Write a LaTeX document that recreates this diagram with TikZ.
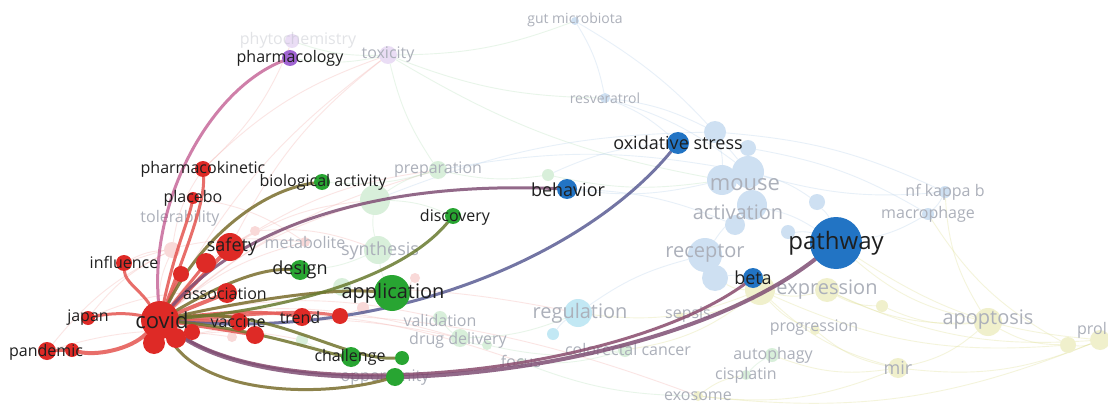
\documentclass[tikz,border=0pt]{standalone}
\usepackage{fontspec}
\setmainfont{Open Sans}
\usepackage{xcolor}
\usetikzlibrary{backgrounds}
\pgfdeclarelayer{bottom}
\pgfdeclarelayer{back}
\pgfdeclarelayer{mid}
\pgfsetlayers{bottom,back,mid,main}
\definecolor{vred}{RGB}{222,42,38}
\definecolor{vgreen}{RGB}{40,165,50}
\definecolor{vblue}{RGB}{34,116,196}
\definecolor{vpurple}{RGB}{160,100,210}
\definecolor{vcyan}{RGB}{120,205,230}
\definecolor{vyellow}{RGB}{212,212,110}
\definecolor{gtxt}{RGB}{172,176,186}

\begin{document}
\begin{tikzpicture}[
      x=1pt, y=-1pt,
      dot/.style={circle, inner sep=0pt, draw=none},
      rdot/.style={dot, fill=vred},
      gdot/.style={dot, fill=vgreen},
      bdot/.style={dot, fill=vblue},
      pdot/.style={dot, fill=vpurple},
      rghost/.style={dot, fill=vred!18},
      gghost/.style={dot, fill=vgreen!18},
      bghost/.style={dot, fill=vblue!22},
      yghost/.style={dot, fill=vyellow!35},
      pghost/.style={dot, fill=vpurple!22},
      lab/.style={inner sep=0pt, text=black!88, font=\fontsize{16}{16}\selectfont},
      labm/.style={lab, font=\fontsize{18}{18}\selectfont},
      labl/.style={lab, font=\fontsize{20}{20}\selectfont},
      labxl/.style={lab, font=\fontsize{22}{22}\selectfont},
      labxxl/.style={lab, font=\fontsize{24}{24}\selectfont},
      ghost/.style={text=gtxt},
      faint/.style={line width=0.9pt, opacity=0.35},
      link/.style={line width=3pt, opacity=0.85, line cap=round}
    ]
    \useasboundingbox (0,0) rectangle (1108,417);

    \begin{pgfonlayer}{back}
    \node[pghost, minimum size=14] (phyto) at (292,41) {};
    \node[pghost, minimum size=18] (toxicity) at (388,55) {};
    \node[bghost, minimum size=8] (gut) at (575,21) {};
    \node[bghost, minimum size=10] (resv) at (605,98) {};
    \node[bghost, minimum size=22] (b1) at (715,132) {};
    \node[bghost, minimum size=16] (b2) at (748,148) {};
    \node[bghost, minimum size=30] (b3) at (722,180) {};
    \node[bghost, minimum size=32] (b4) at (748,172) {};
    \node[bghost, minimum size=30] (b5) at (752,205) {};
    \node[bghost, minimum size=20] (b6) at (735,225) {};
    \node[bghost, minimum size=34] (receptor) at (705,255) {};
    \node[bghost, minimum size=26] (b7) at (715,278) {};
    \node[bghost, minimum size=16] (b8) at (817,202) {};
    \node[bghost, minimum size=14] (b9) at (788,232) {};
    \node[bghost, minimum size=12] (nfk) at (945,192) {};
    \node[bghost, minimum size=12] (macro) at (928,214) {};
    \node[dot, fill=vcyan!45, minimum size=28] (regulation) at (578,313) {};
    \node[dot, fill=vcyan!45, minimum size=12] (cy2) at (553,334) {};
    \node[yghost, minimum size=30] (expression) at (760,290) {};
    \node[yghost, minimum size=24] (ex2) at (827,290) {};
    \node[yghost, minimum size=12] (ex3) at (882,306) {};
    \node[yghost, minimum size=10] (progr) at (815,330) {};
    \node[yghost, minimum size=28] (apop) at (988,322) {};
    \node[yghost, minimum size=16] (y1) at (1068,345) {};
    \node[yghost, minimum size=20] (y2) at (1100,340) {};
    \node[yghost, minimum size=20] (mir) at (898,368) {};
    \node[yghost, minimum size=10] (exo) at (698,396) {};
    \node[gghost, minimum size=14] (autophagy) at (772,355) {};
    \node[gghost, minimum size=10] (cispl) at (746,375) {};
    \node[gghost, minimum size=14] (colorectal) at (625,350) {};
    \node[yghost, minimum size=8] (sepsis) at (680,316) {};
    \node[gghost, minimum size=18] (preparation) at (438,170) {};
    \node[gghost, minimum size=12] (pr2) at (548,175) {};
    \node[gghost, minimum size=30] (syn1) at (375,200) {};
    \node[gghost, minimum size=28] (synthesis) at (378,250) {};
    \node[rghost, minimum size=10] (metab) at (305,242) {};
    \node[gghost, minimum size=14] (valid) at (440,318) {};
    \node[gghost, minimum size=18] (drug) at (460,338) {};
    \node[gghost, minimum size=10] (dr2) at (487,345) {};
    \node[gghost, minimum size=18] (g3) at (342,287) {};
    \node[gghost, minimum size=12] (g4) at (302,340) {};
    \node[gghost, minimum size=8] (focus) at (521,362) {};
    \node[rghost, minimum size=16] (tol) at (172,250) {};
    \node[rghost, minimum size=10] (r2) at (255,231) {};
    \node[rghost, minimum size=10] (r3) at (415,278) {};
    \node[rghost, minimum size=12] (r4) at (363,308) {};
    \node[rghost, minimum size=10] (r5) at (232,337) {};

    \node[lab, ghost, opacity=0.35] (phytot) at (298,40) {phytochemistry};
    \node[lab, ghost] (toxicityt) at (388,55) {toxicity};
    \node[lab, ghost, font=\fontsize{14}{14}\selectfont] (gutt) at (575,20) {gut microbiota};
    \node[lab, ghost, font=\fontsize{14}{14}\selectfont] (resvt) at (605,98) {resveratrol};
    \node[labxl, ghost] (mouset) at (745,185) {mouse};
    \node[labl, ghost] (activationt) at (738,212) {activation};
    \node[labl, ghost] (receptort) at (705,253) {receptor};
    \node[lab, ghost] (macrot) at (928,214) {macrophage};
    \node[lab, ghost] (nfkt) at (945,192) {nf kappa b};
    \node[labl, ghost] (regulationt) at (580,313) {regulation};
    \node[lab, ghost] (sepsist) at (688,315) {sepsis};
    \node[lab, ghost] (colorectalt) at (628,349) {colorectal cancer};
    \node[lab, ghost] (focust) at (521,361) {focus};
    \node[lab, ghost] (exot) at (698,396) {exosome};
    \node[lab, ghost] (cisplt) at (746,375) {cisplatin};
    \node[lab, ghost] (autophagyt) at (773,355) {autophagy};
    \node[lab, ghost] (progrt) at (814,328) {progression};
    \node[labl, ghost] (expressiont) at (827,290) {expression};
    \node[labm, ghost] (mirt) at (898,368) {mir};
    \node[labl, ghost] (apopt) at (988,320) {apoptosis};
    \node[lab, ghost, anchor=east] (prolt) at (1107,330) {prol};
    \node[lab, ghost] (preparationt) at (438,170) {preparation};
    \node[labm, ghost] (synthesist) at (380,251) {synthesis};
    \node[lab, ghost] (metabt) at (305,242) {metabolite};
    \node[lab, ghost] (validt) at (440,320) {validation};
    \node[lab, ghost] (drugt) at (458,340) {drug delivery};
    \node[lab, ghost] (tolt) at (180,218) {tolerability};
    \node[lab, ghost] (opportunityt) at (385,378) {opportunity};
    \end{pgfonlayer}

    \node[rdot, minimum size=38] (covid) at (160,320) {};
    \node[rdot, minimum size=22] (cv1) at (154,343) {};
    \node[rdot, minimum size=20] (cv2) at (176,338) {};
    \node[rdot, minimum size=16] (cv3) at (192,332) {};
    \node[rdot, minimum size=18] (pandemic) at (47,351) {};
    \node[rdot, minimum size=14] (pand2) at (72,350) {};
    \node[rdot, minimum size=14] (japan) at (88,318) {};
    \node[rdot, minimum size=16] (influence) at (124,263) {};
    \node[rdot, minimum size=28] (safety) at (230,247) {};
    \node[rdot, minimum size=20] (saf2) at (206,263) {};
    \node[rdot, minimum size=16] (saf3) at (181,274) {};
    \node[rdot, minimum size=16] (pharmacokinetic) at (203,169) {};
    \node[rdot, minimum size=12] (placebo) at (193,198) {};
    \node[rdot, minimum size=20] (association) at (227,293) {};
    \node[rdot, minimum size=18] (vaccine) at (239,322) {};
    \node[rdot, minimum size=18] (vac2) at (255,335) {};
    \node[rdot, minimum size=18] (trend) at (302,317) {};
    \node[rdot, minimum size=16] (tr2) at (340,316) {};
    \node[gdot, minimum size=16] (biological) at (322,182) {};
    \node[gdot, minimum size=20] (design) at (300,270) {};
    \node[gdot, minimum size=36] (application) at (392,293) {};
    \node[gdot, minimum size=16] (discovery) at (453,216) {};
    \node[gdot, minimum size=20] (challenge) at (351,357) {};
    \node[gdot, minimum size=14] (gr2) at (402,358) {};
    \node[gdot, minimum size=18] (opportunity) at (395,377) {};
    \node[pdot, minimum size=16] (pharmacology) at (290,58) {};
    \node[bdot, minimum size=20] (behavior) at (567,189) {};
    \node[bdot, minimum size=22] (oxidative) at (678,143) {};
    \node[bdot, minimum size=52] (pathway) at (836,243) {};
    \node[bdot, minimum size=20] (beta) at (753,278) {};

    \begin{pgfonlayer}{bottom}
    \fill[white] (0,0) rectangle (1108,417);
    \foreach \a/\b in {covid/tol, covid/metab, covid/r2, covid/syn1, covid/toxicity, covid/preparation,
        covid/valid, covid/drug, covid/regulation, covid/focus, covid/exo, safety/toxicity,
        safety/preparation, safety/syn1, pharmacokinetic/toxicity, placebo/metab, influence/tol,
        tol/pharmacokinetic, r2/synthesis, r3/application, r4/trend, pandemic/tol, japan/tol,
        phyto/pharmacokinetic, pandemic/r5, japan/association, influence/metab, cv1/g4, cv2/drug}
      \draw[faint, vred!35] (\a) to[bend left=12] (\b);
    \foreach \a/\b in {preparation/syn1, syn1/synthesis, synthesis/application, preparation/pr2,
        pr2/b3, valid/drug, drug/dr2, dr2/colorectal, focus/colorectal, g3/application,
        g4/challenge, design/synthesis, biological/preparation, discovery/syn1, autophagy/cispl,
        pharmacology/toxicity, phyto/toxicity, toxicity/gut, toxicity/resv, toxicity/preparation,
        toxicity/b3, drug/regulation, focus/exo}
      \draw[faint, vgreen!30] (\a) to[bend right=10] (\b);
    \foreach \a/\b in {gut/resv, resv/b1, resv/oxidative, b1/b3, b3/b4, b4/b5, b5/pathway, b4/b8,
        b8/pathway, b9/pathway, receptor/b7, receptor/b5, b7/beta, macro/pathway, nfk/b4,
        nfk/macro, regulation/receptor, cy2/regulation, b3/behavior, resv/b4, gut/b4,
        behavior/b6, b1/nfk, b2/macro, pr2/oxidative, syn1/b1, preparation/b4}
      \draw[faint, vblue!30] (\a) to[bend left=10] (\b);
    \foreach \a/\b in {expression/ex2, ex2/ex3, ex3/apop, apop/y1, y1/y2, expression/mir, mir/y2,
        mir/apop, progr/mir, expression/progr, exo/mir, cispl/exo, colorectal/expression,
        sepsis/expression, ex2/y2, ex2/apop, expression/y1, exo/y2, b7/expression,
        pathway/apop, pathway/y2, regulation/expression, autophagy/mir, macro/y1, nfk/apop}
      \draw[faint, vyellow!70] (\a) to[bend right=14] (\b);
    \end{pgfonlayer}

    \begin{pgfonlayer}{mid}
    \draw[link, vred!45!vpurple, opacity=0.7] (covid) .. controls (150,200) and (210,90) .. (pharmacology);
    \draw[link, vred!80] (covid) .. controls (190,240) and (205,200) .. (pharmacokinetic);
    \draw[link, vred!80] (covid) .. controls (175,250) and (188,222) .. (placebo);
    \draw[link, vred!80] (covid) .. controls (140,290) and (125,282) .. (influence);
    \draw[link, vred!80] (covid) .. controls (125,312) and (105,314) .. (japan);
    \draw[link, line width=4pt, vred!80] (covid) .. controls (130,350) and (95,356) .. (pand2);
    \draw[link, vred!80] (pand2) -- (pandemic);
    \draw[link, line width=4pt, vred!80] (covid) -- (safety);
    \draw[link, vred!80] (covid) -- (saf2);
    \draw[link, vred!80] (covid) -- (saf3);
    \draw[link, line width=4pt, vred!80] (covid) -- (association);
    \draw[link, line width=4pt, vred!80] (covid) -- (vaccine);
    \draw[link, vred!80] (covid) -- (vac2);
    \draw[link, vred!80] (covid) .. controls (220,312) and (260,310) .. (trend);
    \draw[link, vred!75] (covid) .. controls (230,318) and (290,308) .. (tr2);
    \draw[link, vred!45!vgreen] (covid) .. controls (200,240) and (260,190) .. (biological);
    \draw[link, vred!50!vblue] (covid) .. controls (230,240) and (350,180) .. (behavior);
    \draw[link, vred!30!vblue] (covid) .. controls (400,340) and (590,250) .. (oxidative);
    \draw[link, vred!55!vblue] (covid) .. controls (280,410) and (620,375) .. (beta);
    \draw[link, line width=4pt, vred!50!vblue] (covid) .. controls (280,415) and (660,380) .. (pathway);
    \draw[link, vred!45!vgreen] (covid) .. controls (220,285) and (260,268) .. (design);
    \draw[link, vred!45!vgreen] (covid) .. controls (250,300) and (330,288) .. (application);
    \draw[link, vred!35!vgreen] (covid) .. controls (280,310) and (400,280) .. (discovery);
    \draw[link, vred!40!vgreen] (covid) .. controls (260,330) and (320,352) .. (challenge);
    \draw[link, vred!40!vgreen] (covid) .. controls (270,305) and (340,360) .. (gr2);
    \draw[link, vred!45!vgreen] (covid) .. controls (200,395) and (320,398) .. (opportunity);
    \end{pgfonlayer}

    \node[labxl] (covidt) at (162,320) {covid};
    \node[lab] (pandemict) at (46,352) {pandemic};
    \node[lab] (japant) at (88,318) {japan};
    \node[lab] (influencet) at (124,262) {influence};
    \node[labm] (safetyt) at (232,247) {safety};
    \node[lab] (pharmacokinetict) at (203,169) {pharmacokinetic};
    \node[lab] (placebot) at (193,198) {placebo};
    \node[lab] (associationt) at (225,294) {association};
    \node[lab] (vaccinet) at (238,322) {vaccine};
    \node[lab] (trendt) at (300,317) {trend};
    \node[lab] (biologicalt) at (323,182) {biological activity};
    \node[labm] (designt) at (300,270) {design};
    \node[labl] (applicationt) at (393,293) {application};
    \node[lab] (discoveryt) at (455,217) {discovery};
    \node[lab] (challenget) at (350,357) {challenge};
    \node[lab] (pharmacologyt) at (290,58) {pharmacology};
    \node[labm] (behaviort) at (568,190) {behavior};
    \node[labm] (oxidativet) at (678,143) {oxidative stress};
    \node[labxxl] (pathwayt) at (836,243) {pathway};
    \node[labm] (betat) at (753,278) {beta};
  \end{tikzpicture}
\end{document}
